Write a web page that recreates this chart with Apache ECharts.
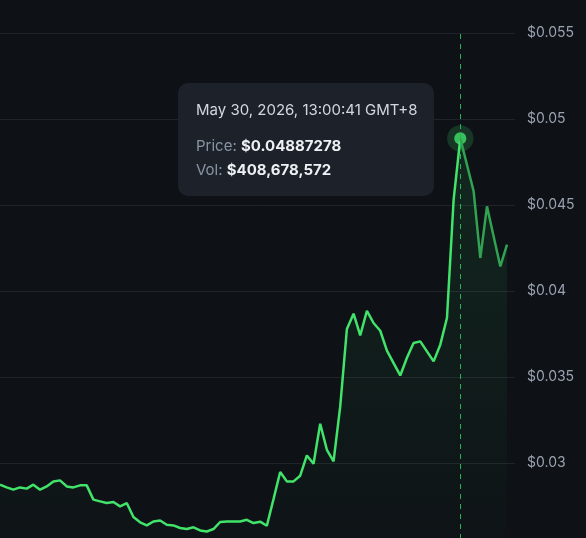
<!DOCTYPE html>
<html>
<head>
<meta charset="utf-8">
<script src="https://cdn.jsdelivr.net/npm/echarts@6/dist/echarts.min.js"></script>
<style>
  html, body { margin: 0; padding: 0; background: #0e1116; overflow: hidden; }
  /* taller than the window so the lowest grid row runs off the bottom edge */
  #chart { width: 586px; height: 549px; }
</style>
</head>
<body>
<div id="chart"></div>
<script>
// price samples, left to right
const prices = [
  0.02874, 0.02858, 0.02845, 0.02858, 0.02851, 0.02874, 0.02845, 0.02864, 0.02893, 0.02899,
  0.02864, 0.02858, 0.02870, 0.02870, 0.02787, 0.02777, 0.02767, 0.02773, 0.02748, 0.02767,
  0.02686, 0.02655, 0.02637, 0.02660, 0.02666, 0.02641, 0.02637, 0.02622, 0.02616, 0.02626,
  0.02608, 0.02602, 0.02616, 0.02657, 0.02660, 0.02660, 0.02660, 0.02670, 0.02651, 0.02659,
  0.02635, 0.02790, 0.02948, 0.02893, 0.02893, 0.02926, 0.03044, 0.02996, 0.03228, 0.03077,
  0.03009, 0.03329, 0.03779, 0.03868, 0.03742, 0.03885, 0.03814, 0.03769, 0.03653, 0.03581,
  0.03509, 0.03612, 0.03698, 0.03707, 0.03649, 0.03591, 0.03688, 0.03843, 0.04531, 0.04887278,
  0.04734, 0.04579, 0.04192, 0.04492, 0.04317, 0.04143, 0.04269
]
const yTicks = [0.025, 0.03, 0.035, 0.04, 0.045, 0.05, 0.055]

// hovered sample shown in the tooltip
const hoverIndex = 69
const hoverTime = 'May 30, 2026, 13:00:41 GMT+8'
const hoverVol = 408678572

const green = '#3ccf61'
const dimGreen = '#2d944a'

const points = prices.map((p, i) => [i, p])

function areaFill() {
  return {
    color: new echarts.graphic.LinearGradient(0, 0, 0, 1, [
      { offset: 0, color: 'rgba(46, 190, 90, 0.17)' },
      { offset: 1, color: 'rgba(46, 190, 90, 0.01)' }
    ]),
    origin: 'start'
  }
}

const txt = 'font-family:Inter,sans-serif;font-size:15px;'

const chart = echarts.init(document.getElementById('chart'))

chart.setOption({
  backgroundColor: '#0e1116',
  animation: false,
  grid: { left: 0, right: 71, top: 33, bottom: 0 },
  tooltip: {
    trigger: 'axis',
    triggerOn: 'none',
    alwaysShowContent: true,
    position: [178, 83],
    backgroundColor: '#1d222a',
    borderWidth: 0,
    borderRadius: 10,
    padding: [17, 18, 14, 18],
    extraCssText: 'box-shadow:none;width:220px;',
    axisPointer: { type: 'none' },
    formatter: () =>
      '<div style="' + txt + 'color:#d3d8df;line-height:20px;margin-bottom:14px">' + hoverTime + '</div>' +
      '<div style="' + txt + 'color:#8a94a3;line-height:24px">Price: <b style="color:#eef1f4">$' +
      prices[hoverIndex] + '</b></div>' +
      '<div style="' + txt + 'color:#8a94a3;line-height:24px">Vol: <b style="color:#eef1f4">$' +
      hoverVol.toLocaleString('en-US') + '</b></div>'
  },
  xAxis: {
    type: 'value',
    min: 0,
    max: prices.length + 0.2,
    show: false
  },
  yAxis: {
    type: 'value',
    position: 'right',
    min: yTicks[0],
    max: yTicks[yTicks.length - 1],
    interval: 0.005,
    axisLine: { show: false },
    axisTick: { show: false },
    axisLabel: {
      showMinLabel: false,
      margin: 12,
      color: '#9aa3b0',
      fontFamily: 'Inter',
      fontSize: 14,
      formatter: (v) => '$' + parseFloat(v.toFixed(4))
    },
    splitLine: { lineStyle: { color: '#1f242b', width: 1 } }
  },
  series: [
    {
      type: 'line',
      data: points.slice(0, hoverIndex + 1),
      symbol: 'none',
      lineStyle: { width: 2.5, color: green },
      areaStyle: areaFill(),
      markLine: {
        silent: true,
        symbol: 'none',
        label: { show: false },
        lineStyle: { color: '#22b455', type: [5, 5], width: 1 },
        data: [{ xAxis: hoverIndex }]
      }
    },
    {
      type: 'line',
      data: points.slice(hoverIndex),
      symbol: 'none',
      lineStyle: { width: 2.5, color: dimGreen },
      areaStyle: areaFill()
    },
    {
      type: 'scatter',
      silent: true,
      data: [points[hoverIndex]],
      symbolSize: 24,
      itemStyle: { color: 'rgba(60, 207, 97, 0.22)' }
    },
    {
      type: 'scatter',
      silent: true,
      data: [points[hoverIndex]],
      symbolSize: 11,
      itemStyle: { color: green }
    }
  ]
})

chart.dispatchAction({ type: 'showTip', x: chart.convertToPixel({ gridIndex: 0 }, points[hoverIndex])[0], y: 140 })
</script>
</body>
</html>
